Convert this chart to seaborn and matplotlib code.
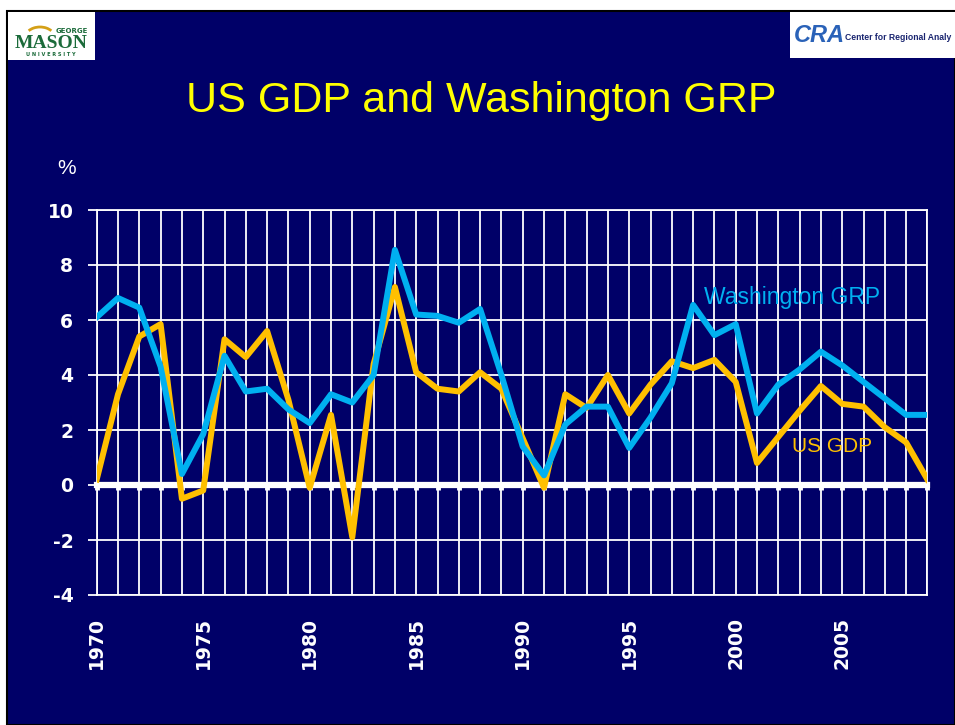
import matplotlib
matplotlib.use("Agg")
import matplotlib.pyplot as plt
import matplotlib.patches as mpatches
import pandas as pd
import seaborn as sns

# ---------------- data ----------------
years = list(range(1970, 2010))
washington_grp = [6.1, 6.8, 6.45, 4.3, 0.4, 1.85, 4.7, 3.4, 3.5, 2.75,
                  2.25, 3.3, 3.0, 4.0, 8.55, 6.2, 6.15, 5.9, 6.4, 4.0,
                  1.4, 0.35, 2.2, 2.85, 2.85, 1.35, 2.45, 3.7, 6.55, 5.45,
                  5.85, 2.6, 3.65, 4.2, 4.85, 4.35, 3.75, 3.15, 2.55, 2.55]
us_gdp = [0.2, 3.3, 5.4, 5.85, -0.5, -0.2, 5.3, 4.65, 5.6, 3.1,
          -0.1, 2.55, -1.9, 4.4, 7.2, 4.1, 3.5, 3.4, 4.1, 3.5,
          1.7, -0.1, 3.3, 2.8, 4.0, 2.6, 3.65, 4.5, 4.25, 4.55,
          3.75, 0.8, 1.75, 2.7, 3.6, 2.95, 2.85, 2.1, 1.55, 0.2]
label_years = [1970, 1975, 1980, 1985, 1990, 1995, 2000, 2005]
y_ticks = [-4, -2, 0, 2, 4, 6, 8, 10]
title = "US GDP and Washington GRP"
series_names = ["US GDP", "Washington GRP"]

NAVY = "#000068"
CYAN = "#00B0F0"
ORANGE = "#FFC000"
W, H = 955, 725

plt.rcParams["axes.unicode_minus"] = False

fig = plt.figure(figsize=(W / 100, H / 100), dpi=100)
fig.patch.set_facecolor("white")


def fx(px):
    return px / W


def fy(py):
    return 1 - py / H


# slide background (behind everything)
fig.patches.append(mpatches.Rectangle((fx(7), 0), 1 - fx(7), fy(11),
                                      transform=fig.transFigure, facecolor=NAVY,
                                      edgecolor="black", lw=1.5, zorder=-10))

# ---------------- main axes ----------------
x0, x1, ytop, ybot = 96.7, 927.4, 210, 595
ax = fig.add_axes([fx(x0), fy(ybot), fx(x1 - x0), (ybot - ytop) / H])
ax.set_zorder(5)
ax.set_facecolor(NAVY)

df = pd.DataFrame({"Year": years, series_names[0]: us_gdp, series_names[1]: washington_grp})
sns.lineplot(data=df, x="Year", y=series_names[0], color=ORANGE, lw=4.3, ax=ax, zorder=3)
sns.lineplot(data=df, x="Year", y=series_names[1], color=CYAN, lw=4.3, ax=ax, zorder=4)

ax.set_xlim(years[0], years[-1])
ax.set_ylim(y_ticks[0], y_ticks[-1])
ax.set_xlabel("")
ax.set_ylabel("")

ax.set_xticks(years)
ax.set_xticklabels([str(y) if y in label_years else "" for y in years],
                   rotation=90, fontsize=13.5, fontweight="bold", color="white",
                   family="DejaVu Sans")
ax.set_yticks(y_ticks)
ax.set_yticklabels([str(v) for v in y_ticks], fontsize=13.5, fontweight="bold",
                   color="white", family="DejaVu Sans")
ax.tick_params(axis="x", length=0, pad=16)
ax.tick_params(axis="y", direction="out", length=6.8, width=1.3, color="white", pad=10)

ax.grid(True, color="white", lw=1.3)
ax.set_axisbelow(True)
for s in ax.spines.values():
    s.set_color("white")
    s.set_linewidth(1.3)

# thick zero axis with year tick stubs
sec = ax.secondary_xaxis((0 - y_ticks[0]) / (y_ticks[-1] - y_ticks[0]))
sec.set_xticks(years)
sec.tick_params(direction="out", length=3.5, width=3.5, color="white", labelbottom=False)
sec.spines["bottom"].set_color("white")
sec.spines["bottom"].set_linewidth(4.5)

# series labels
ax.text(1998.52, 6.57, "Washington GRP", color=CYAN, fontsize=16.5,
        family="Liberation Sans", va="baseline", ha="left", zorder=5)
ax.text(2002.64, 1.2, "US GDP", color=ORANGE, fontsize=15,
        family="Liberation Sans", va="baseline", ha="left", zorder=5)

# "%" unit label
fig.text(fx(67), fy(168), "%", color="white", fontsize=15, family="Liberation Sans",
         ha="center", va="center")

# title
fig.text(fx(481), fy(112), title, color="#FFFF00", fontsize=31,
         family="Liberation Sans", ha="center", va="baseline")

# ---------------- logos ----------------
fig.patches.append(mpatches.Rectangle((fx(8), fy(60)), fx(87), 48 / H,
                                      transform=fig.transFigure, facecolor="white",
                                      edgecolor="none", zorder=1))
fig.text(fx(72), fy(31), "GEORGE", color="#1B6B3A", fontsize=5, fontweight="bold",
         family="DejaVu Sans", ha="center", va="center")
fig.text(fx(51), fy(44), "MASON", color="#1B6B3A", fontsize=14, fontweight="bold",
         family="Liberation Serif", ha="center", va="center")
fig.text(fx(51), fy(55), "U N I V E R S I T Y", color="#1B6B3A", fontsize=3.6,
         fontweight="bold", family="DejaVu Sans", ha="center", va="center")
fig.patches.append(mpatches.Arc((fx(40), fy(38)), fx(30), 22 / H, theta1=40, theta2=140,
                                transform=fig.transFigure, color="#D4A017", lw=2, zorder=2))

fig.patches.append(mpatches.Rectangle((fx(790), fy(58)), 1 - fx(790), 46 / H,
                                      transform=fig.transFigure, facecolor="white",
                                      edgecolor="none", zorder=1))
fig.text(fx(794), fy(36), "CRA", color="#2A62B8", fontsize=17, fontweight="bold",
         fontstyle="italic", family="Liberation Sans", ha="left", va="center")
fig.text(fx(845), fy(37), "Center for Regional Analy", color="#1A2570", fontsize=6.2,
         fontweight="bold", family="Liberation Sans", ha="left", va="center")

fig.savefig("out.png", dpi=100, facecolor=fig.get_facecolor())
